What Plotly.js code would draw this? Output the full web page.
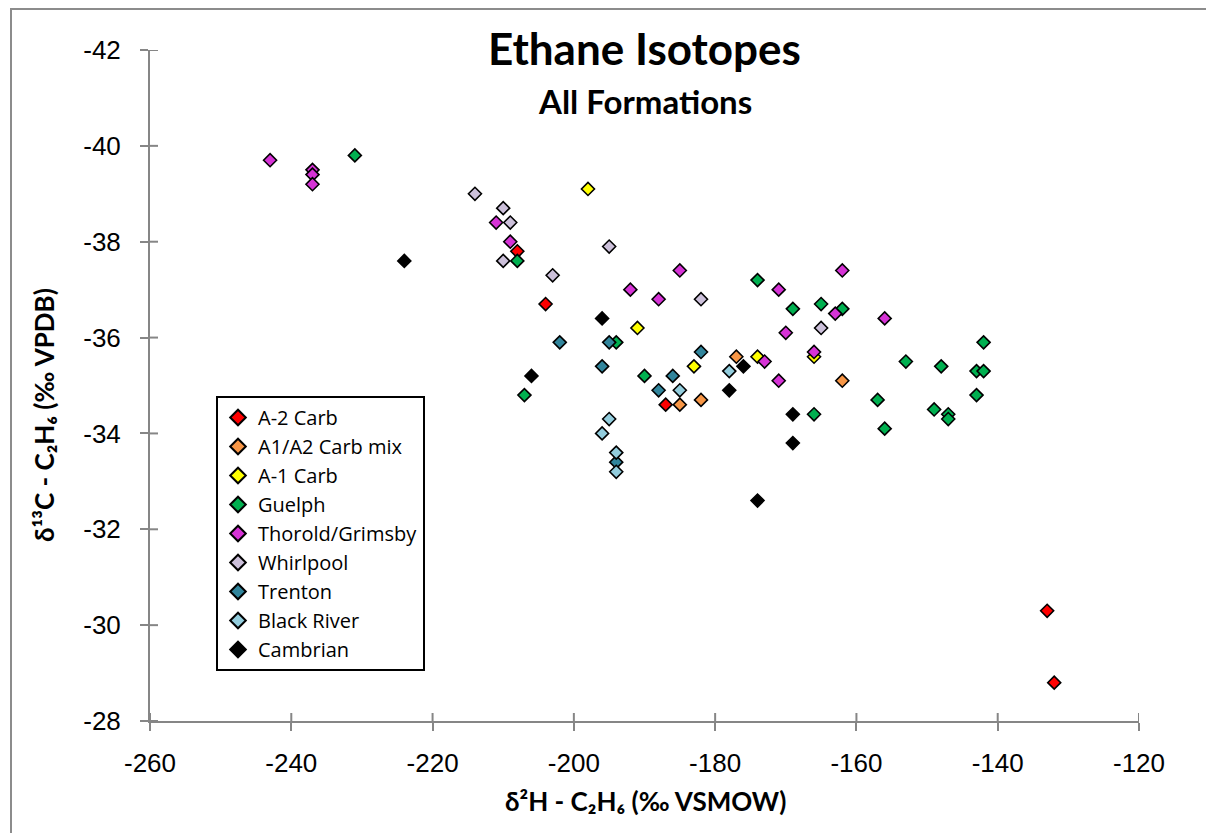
<!DOCTYPE html>
<html>
<head>
<meta charset="utf-8">
<script src="https://cdn.plot.ly/plotly-3.0.1.min.js"></script>
<style>
  html, body { margin: 0; padding: 0; background: #ffffff; }
  #chart { width: 1206px; height: 833px; }
</style>
</head>
<body>
<div id="chart"></div>
<script>
// ---- data (δ2H, δ13C of ethane) ----
const seriesNames = ["A-2 Carb", "A1/A2 Carb mix", "A-1 Carb", "Guelph", "Thorold/Grimsby", "Whirlpool", "Trenton", "Black River", "Cambrian"];

const a2CarbX = [-208, -204, -187, -133, -132];
const a2CarbY = [-37.8, -36.7, -34.6, -30.3, -28.8];

const a1a2MixX = [-185, -182, -177, -162];
const a1a2MixY = [-34.6, -34.7, -35.6, -35.1];

const a1CarbX = [-198, -191, -183, -174, -166];
const a1CarbY = [-39.1, -36.2, -35.4, -35.6, -35.6];

const guelphX = [-231, -208, -207, -194, -190, -174, -169, -165, -162, -166, -157, -156, -153, -149, -148, -147, -147, -143, -143, -142, -142];
const guelphY = [-39.8, -37.6, -34.8, -35.9, -35.2, -37.2, -36.6, -36.7, -36.6, -34.4, -34.7, -34.1, -35.5, -34.5, -35.4, -34.4, -34.3, -35.3, -34.8, -35.9, -35.3];

const thoroldX = [-243, -237, -237, -237, -211, -209, -192, -188, -185, -171, -170, -173, -171, -166, -163, -162, -156];
const thoroldY = [-39.7, -39.5, -39.4, -39.2, -38.4, -38.0, -37.0, -36.8, -37.4, -37.0, -36.1, -35.5, -35.1, -35.7, -36.5, -37.4, -36.4];

const whirlpoolX = [-214, -210, -209, -210, -203, -195, -182, -165];
const whirlpoolY = [-39.0, -38.7, -38.4, -37.6, -37.3, -37.9, -36.8, -36.2];

const trentonX = [-202, -195, -196, -188, -186, -182, -194];
const trentonY = [-35.9, -35.9, -35.4, -34.9, -35.2, -35.7, -33.4];

const blackRiverX = [-195, -196, -194, -194, -185, -178];
const blackRiverY = [-34.3, -34.0, -33.6, -33.2, -34.9, -35.3];

const cambrianX = [-224, -206, -196, -178, -176, -169, -169, -174];
const cambrianY = [-37.6, -35.2, -36.4, -34.9, -35.4, -34.4, -33.8, -32.6];

const xTickVals = [-260, -240, -220, -200, -180, -160, -140, -120];
const yTickVals = [-42, -40, -38, -36, -34, -32, -30, -28];

const chartTitle = "Ethane Isotopes";
const chartSubtitle = "All Formations";
const xTitle = "δ²H - C₂H₆ (‰ VSMOW)";
const yTitle = "δ¹³C - C₂H₆ (‰ VPDB)";

// ---- styling ----
const seriesColors = ["#FF0000", "#F79646", "#FFFF00", "#00B050", "#D633D6", "#CCC0DA", "#31859C", "#93CDDD", "#000000"];
const xs = [a2CarbX, a1a2MixX, a1CarbX, guelphX, thoroldX, whirlpoolX, trentonX, blackRiverX, cambrianX];
const ys = [a2CarbY, a1a2MixY, a1CarbY, guelphY, thoroldY, whirlpoolY, trentonY, blackRiverY, cambrianY];

const traces = seriesNames.map((name, i) => ({
  type: "scatter",
  mode: "markers",
  name: name,
  x: xs[i],
  y: ys[i],
  marker: { symbol: "diamond", size: 10, color: seriesColors[i], line: { color: "#000000", width: 1.6 } }
}));

const W = 1206, H = 833;
const L = 150, R = 67, T = 50, B = 112;
const pw = W - L - R, ph = H - T - B;
const px = v => (v - L) / pw;
const py = v => (H - B - v) / ph;

const axisGray = "#868686";
const tickFont = { family: "Liberation Sans, Arial, sans-serif", size: 26, color: "#000000" };
const boldFont = "Lato, Calibri, sans-serif";

// short inward tick halves (Excel "cross" tick marks), placed at the axis tick values
const crossShapes = [];
xTickVals.forEach(v => crossShapes.push({ type: "line", xref: "x", yref: "paper", x0: v, x1: v, y0: 0, y1: 8 / ph, line: { color: axisGray, width: 2 } }));
yTickVals.forEach(v => crossShapes.push({ type: "line", xref: "paper", yref: "y", x0: 0, x1: 8 / pw, y0: v, y1: v, line: { color: axisGray, width: 2 } }));

const layout = {
  width: W, height: H,
  margin: { l: L, r: R, t: T, b: B },
  paper_bgcolor: "#ffffff",
  plot_bgcolor: "#ffffff",
  showlegend: true,
  xaxis: {
    range: [-260, -120], tickvals: xTickVals, ticktext: xTickVals.map(String),
    showline: true, linecolor: axisGray, linewidth: 2,
    ticks: "outside", ticklen: 8, tickwidth: 2, tickcolor: axisGray,
    ticklabelstandoff: 10,
    showgrid: false, zeroline: false, tickfont: tickFont
  },
  yaxis: {
    range: [-28, -42], tickvals: yTickVals, ticktext: yTickVals.map(String),
    showline: true, linecolor: axisGray, linewidth: 2,
    ticks: "outside", ticklen: 8, tickwidth: 2, tickcolor: axisGray,
    ticklabelstandoff: 14,
    showgrid: false, zeroline: false, tickfont: tickFont
  },
  legend: {
    x: px(216), y: py(396), xanchor: "left", yanchor: "top",
    bgcolor: "#ffffff", bordercolor: "#000000", borderwidth: 2,
    font: { family: "Open Sans, Lato, sans-serif", size: 20, color: "#000000" },
    itemsizing: "constant", tracegroupgap: 0, entrywidth: 190
  },
  annotations: [
    { text: "<b>" + chartTitle + "</b>", xref: "paper", yref: "paper", x: 0.5, y: py(48),
      xanchor: "center", yanchor: "middle", showarrow: false,
      font: { family: boldFont, size: 44, color: "#000000" } },
    { text: "<b>" + chartSubtitle + "</b>", xref: "paper", yref: "paper", x: 0.5, y: py(101),
      xanchor: "center", yanchor: "middle", showarrow: false,
      font: { family: boldFont, size: 33, color: "#000000" } },
    { text: "<b>" + xTitle + "</b>", xref: "paper", yref: "paper",
      x: px(645), y: py(801), xanchor: "center", yanchor: "middle", showarrow: false,
      font: { family: boldFont, size: 26, color: "#000000" } },
    { text: "<b>" + yTitle + "</b>", xref: "paper", yref: "paper",
      x: px(44), y: py(415), xanchor: "center", yanchor: "middle", showarrow: false, textangle: -90,
      font: { family: boldFont, size: 26, color: "#000000" } }
  ],
  shapes: [
    { type: "path", xref: "paper", yref: "paper",
      path: `M ${px(11)} ${py(840)} L ${px(11)} ${py(9)} L ${px(1215)} ${py(9)}`,
      line: { color: "#8C8C8C", width: 2 } }
  ].concat(crossShapes)
};

Plotly.newPlot("chart", traces, layout, { displayModeBar: false, staticPlot: true });
</script>
</body>
</html>
